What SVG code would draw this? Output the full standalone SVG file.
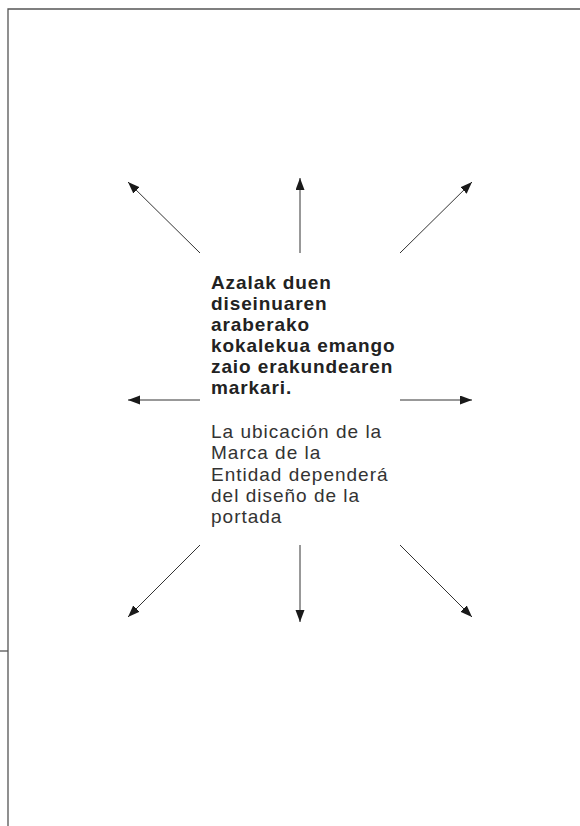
<svg xmlns="http://www.w3.org/2000/svg" width="580" height="826" viewBox="0 0 580 826">
  <style>
    .frame { stroke: #555; stroke-width: 1.3; fill: none; }
    .conn { stroke: #333; stroke-width: 1; fill: none; marker-end: url(#ah); }
    .bold { font-family: "Liberation Sans", Arial, sans-serif; font-size: 19px; font-weight: bold; fill: #222; letter-spacing: 0.9px; }
    .reg { font-family: "Liberation Sans", Arial, sans-serif; font-size: 19px; fill: #333; letter-spacing: 1px; }
  </style>
  <defs>
    <marker id="ah" markerUnits="userSpaceOnUse" markerWidth="13" markerHeight="10" refX="12" refY="4.5" orient="auto">
      <path d="M0,0 L12,4.5 L0,9 Z" fill="#1a1a1a"/>
    </marker>
  </defs>
  <rect width="580" height="826" fill="#fff"/>
  <g id="frame">
    <path class="frame" d="M580,9 H8 V826"/>
    <path class="frame" d="M0,651 H8"/>
  </g>
  <g id="connectors">
    <line class="conn" x1="200" y1="253" x2="128" y2="182"/>
    <line class="conn" x1="300" y1="253" x2="300" y2="178"/>
    <line class="conn" x1="400" y1="253" x2="472" y2="182"/>
    <line class="conn" x1="200" y1="400" x2="128" y2="400"/>
    <line class="conn" x1="400" y1="400" x2="472" y2="400"/>
    <line class="conn" x1="200" y1="545" x2="128" y2="617"/>
    <line class="conn" x1="300" y1="545" x2="300" y2="622"/>
    <line class="conn" x1="400" y1="545" x2="472" y2="617"/>
  </g>
  <g id="center-text">
    <text class="bold">
      <tspan x="211" y="289">Azalak duen</tspan>
      <tspan x="211" y="310">diseinuaren</tspan>
      <tspan x="211" y="331">araberako</tspan>
      <tspan x="211" y="352">kokalekua emango</tspan>
      <tspan x="211" y="373">zaio erakundearen</tspan>
      <tspan x="211" y="394">markari.</tspan>
    </text>
    <text class="reg">
      <tspan x="211" y="438">La ubicación de la</tspan>
      <tspan x="211" y="459">Marca de la</tspan>
      <tspan x="211" y="481">Entidad dependerá</tspan>
      <tspan x="211" y="502">del diseño de la</tspan>
      <tspan x="211" y="523">portada</tspan>
    </text>
  </g>
</svg>
